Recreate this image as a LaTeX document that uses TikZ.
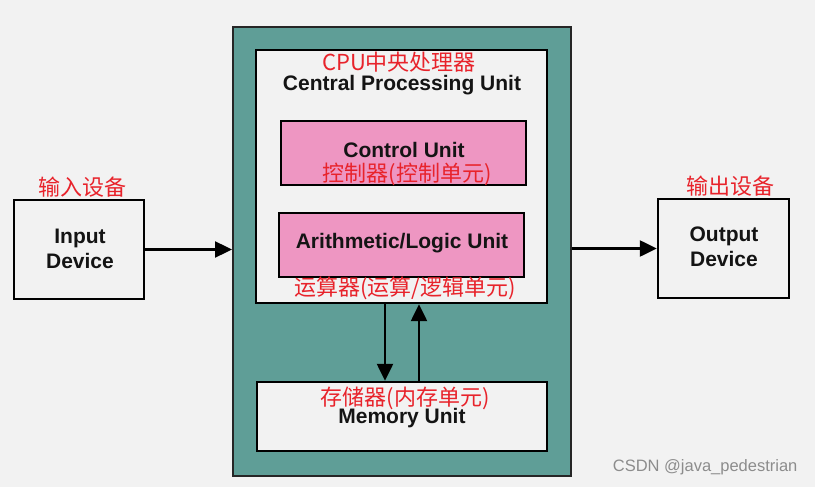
\documentclass[tikz,border=0pt]{standalone}
\usepackage{fontspec}
\setmainfont{Liberation Sans}
\newfontfamily\cjk{Noto Sans CJK SC}
\usetikzlibrary{arrows.meta}
\definecolor{bgc}{HTML}{F2F2F2}
\definecolor{tealc}{HTML}{5F9E97}
\definecolor{pinkc}{HTML}{EE96C2}
\definecolor{redc}{HTML}{E8232B}
\definecolor{boxw}{HTML}{F2F2F2}
\begin{document}
\begin{tikzpicture}[x=1pt,y=-1pt,
  box/.style={draw=black, line width=2.4pt, inner sep=0pt},
  eng/.style={font=\fontsize{21}{25}\selectfont\bfseries, align=center, text=black!92, inner sep=0pt},
  zh/.style={font=\cjk\fontsize{22}{24}\selectfont, text=redc, inner sep=0pt},
  arr/.style={line width=2.4pt, -{Triangle[length=17pt,width=16pt]}}]
\useasboundingbox (0,0) rectangle (815,487);
\fill[bgc] (0,0) rectangle (815,487);
% boxes
\node[box, fill=tealc, line width=2pt, draw=black!85, minimum width=338pt, minimum height=449pt] (outer) at (402,251.5) {};
\node[box, fill=boxw, minimum width=291pt, minimum height=253pt] (cpu) at (401.5,176.5) {};
\node[box, fill=pinkc, minimum width=245pt, minimum height=64pt] (cu) at (403.5,153) {};
\node[box, fill=pinkc, minimum width=245pt, minimum height=64pt] (alu) at (401.5,245) {};
\node[box, fill=boxw, minimum width=290pt, minimum height=69pt] (mem) at (402,416.5) {};
\node[box, fill=boxw, minimum width=130pt, minimum height=99pt] (in) at (79,249.5) {};
\node[box, fill=boxw, minimum width=131pt, minimum height=99pt] (out) at (723.5,248.5) {};
% texts
\node[zh] (tcpu) at (399,62) {CPU中央处理器};
\node[eng] (tcpue) at (402,85) {Central Processing Unit};
\node[eng] (tcu) at (404,150) {Control Unit};
\node[zh] (tcuz) at (407,174) {控制器(控制单元)};
\node[eng] (talu) at (402,243) {Arithmetic/Logic Unit};
\node[zh] (taluz) at (405,288) {运算器(运算/逻辑单元)};
\node[zh] (tmemz) at (405,398) {存储器(内存单元)};
\node[eng] (tmem) at (402,418) {Memory Unit};
\node[eng] (tin) at (80,249) {Input\\Device};
\node[eng] (tout) at (724,247) {Output\\Device};
\node[zh] (tinz) at (82,187) {输入设备};
\node[zh] (toutz) at (730,186) {输出设备};
\node[font=\fontsize{16.5}{19}\selectfont, text=black!45, anchor=east] (wm) at (801,467) {CSDN @java\_pedestrian};
% arrows
\coordinate (dn) at (385,0);
\coordinate (upc) at (419,0);
\draw[arr] (in.east) -- (in.east -| outer.west);
\draw[arr] (outer.east |- out.west) -- (out.west);
\draw[arr] (cpu.south -| dn) -- (mem.north -| dn);
\draw[arr] (mem.north -| upc) -- (cpu.south -| upc);
\end{tikzpicture}
\end{document}
